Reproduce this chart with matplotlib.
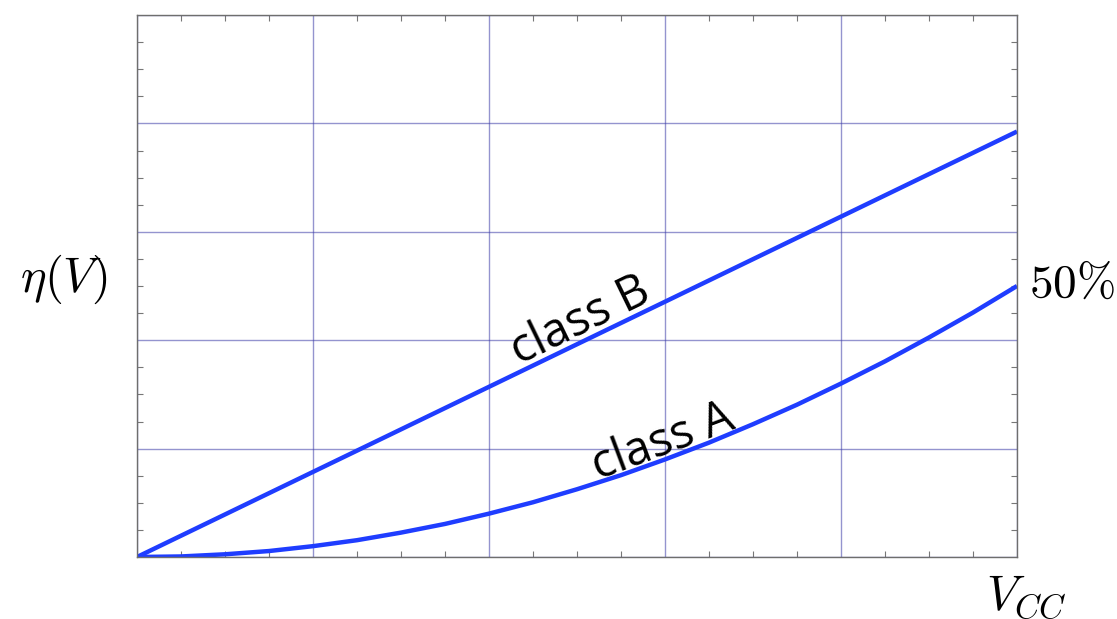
import numpy as np
import matplotlib
matplotlib.use("Agg")
from matplotlib import pyplot as plt
from matplotlib.ticker import MultipleLocator

# %%
# Data (x = V_CC normalised, y = efficiency fraction)

vcc = [0.0, 0.05, 0.1, 0.15, 0.2, 0.25, 0.3, 0.35, 0.4, 0.45, 0.5,
       0.55, 0.6, 0.65, 0.7, 0.75, 0.8, 0.85, 0.9, 0.95, 1.0]
eta_class_a = [0.0, 0.001, 0.005, 0.011, 0.02, 0.031, 0.045, 0.061, 0.08, 0.101, 0.125,
               0.151, 0.18, 0.211, 0.245, 0.281, 0.32, 0.361, 0.405, 0.451, 0.5]
vcc_b = [0.0, 1.0]
eta_class_b = [0.0, 0.785]

plt.rcParams["mathtext.fontset"] = "cm"

fig = plt.figure(figsize=(11.17, 6.19), dpi=100)
ax = fig.add_axes([137 / 1117, 1 - 557 / 619, 880 / 1117, 542 / 619])

ax.set_xlim(0, 1)
ax.set_ylim(0, 1)

ax.xaxis.set_major_locator(MultipleLocator(0.2))
ax.xaxis.set_minor_locator(MultipleLocator(0.05))
ax.yaxis.set_major_locator(MultipleLocator(0.2))
ax.yaxis.set_minor_locator(MultipleLocator(0.05))
ax.grid(True, which="major", color="#3c3ca8", alpha=0.55, lw=1.0)
ax.tick_params(which="both", direction="in", top=True, right=True,
               labelbottom=False, labelleft=False, color="#777777")
ax.tick_params(which="major", length=0)
ax.tick_params(which="minor", length=4, width=0.8)
for sp in ax.spines.values():
    sp.set_color("#6e6e6e")
    sp.set_linewidth(1.0)

line_color = "#1f3dff"
ax.plot(vcc_b, eta_class_b, color=line_color, lw=3.2, solid_capstyle="butt")
ax.plot(vcc, eta_class_a, color=line_color, lw=3.2, solid_capstyle="butt",
        solid_joinstyle="round")

ax.text(0.51, 0.414, "class B", rotation=25.9, rotation_mode="anchor",
        ha="center", va="baseline", fontsize=34, family="Open Sans")
ax.text(0.603, 0.19, "class A", rotation=20.5, rotation_mode="anchor",
        ha="center", va="baseline", fontsize=34, family="Open Sans")

fig.text(0.057, 0.548, r"$\eta(V)$", ha="center", va="center", fontsize=35)
fig.text(0.921, 0.541, r"$50\%$", ha="left", va="center", fontsize=34)
fig.text(0.919, 0.036, r"$V_{CC}$", ha="center", va="center", fontsize=35)

fig.savefig("out.png", dpi=100)
